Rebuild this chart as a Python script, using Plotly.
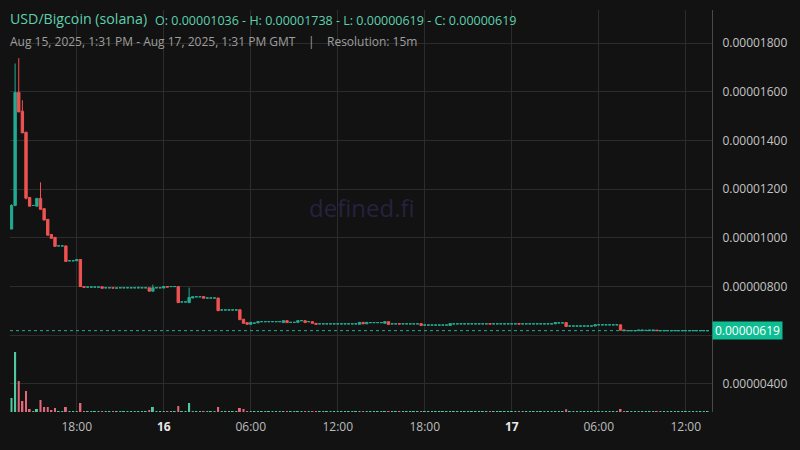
import pandas as pd
import plotly.graph_objects as go

N = 193
UNIT = 1e-8  # prices below are in units of 0.00000001 USD

times = pd.date_range("2025-08-15 13:30", periods=N, freq="15min")

opens = [
    1036, 1133, 1597, 1520, 1434, 1166, 1133, 1130, 1162, 1120,
    1076, 1014, 1002, 967, 967, 967, 906, 906, 906, 911,
    800, 798, 798, 798, 798, 799, 795, 795, 795, 794,
    795, 795, 795, 795, 795, 795, 795, 795, 795, 781,
    795, 795, 794, 800, 800, 800, 800, 737, 737, 734,
    753, 758, 758, 759, 753, 753, 753, 753, 704, 704,
    704, 704, 704, 705, 666, 652, 645, 650, 651, 656,
    656, 656, 656, 656, 656, 652, 660, 653, 653, 653,
    660, 660, 656, 656, 649, 647, 647, 647, 647, 647,
    647, 647, 647, 647, 647, 647, 645, 653, 647, 652,
    652, 652, 652, 649, 656, 647, 647, 648, 647, 647,
    647, 647, 647, 648, 642, 642, 642, 642, 642, 642,
    642, 640, 647, 647, 647, 647, 647, 647, 647, 647,
    647, 647, 648, 647, 647, 647, 647, 647, 647, 647,
    648, 647, 647, 647, 647, 647, 647, 647, 647, 647,
    647, 651, 651, 652, 638, 638, 638, 638, 638, 638,
    638, 638, 643, 643, 643, 643, 643, 643, 643, 622,
    619, 619, 619, 619, 619, 620, 619, 619, 621, 619,
    619, 619, 619, 619, 619, 619, 619, 619, 619, 619,
    619, 619, 619,
]
highs = [
    1138, 1716, 1738, 1565, 1434, 1166, 1133, 1162, 1228, 1120,
    1076, 1014, 1002, 967, 967, 967, 906, 906, 911, 911,
    800, 798, 798, 798, 798, 799, 795, 795, 795, 794,
    795, 795, 795, 795, 795, 800, 795, 795, 795, 808,
    795, 795, 800, 800, 800, 800, 800, 737, 737, 796,
    758, 758, 758, 759, 753, 753, 753, 753, 704, 704,
    704, 704, 704, 705, 666, 652, 653, 650, 656, 656,
    656, 656, 656, 656, 656, 660, 660, 653, 653, 660,
    660, 660, 656, 656, 649, 647, 647, 647, 647, 647,
    647, 647, 647, 647, 647, 647, 653, 653, 653, 652,
    652, 652, 652, 656, 656, 647, 647, 648, 647, 647,
    647, 647, 647, 648, 642, 642, 642, 642, 642, 642,
    642, 648, 647, 647, 647, 647, 647, 647, 647, 647,
    647, 647, 648, 647, 647, 647, 647, 647, 647, 647,
    648, 647, 647, 647, 647, 647, 647, 647, 647, 647,
    652, 651, 651, 652, 638, 638, 638, 638, 638, 638,
    638, 643, 643, 643, 643, 643, 643, 643, 643, 622,
    619, 619, 619, 621, 621, 620, 621, 621, 621, 619,
    619, 619, 619, 619, 619, 619, 619, 619, 619, 619,
    619, 619, 619,
]
lows = [
    1036, 1130, 1517, 1431, 1158, 1130, 1133, 1130, 1117, 1073,
    1011, 998, 965, 967, 967, 903, 906, 906, 906, 800,
    797, 798, 798, 798, 798, 793, 795, 795, 794, 794,
    795, 795, 795, 795, 795, 795, 795, 795, 781, 781,
    795, 795, 794, 798, 800, 800, 734, 737, 737, 734,
    753, 758, 758, 752, 753, 753, 753, 701, 704, 704,
    704, 704, 704, 664, 649, 645, 645, 650, 651, 656,
    656, 656, 656, 656, 656, 652, 652, 653, 653, 653,
    660, 652, 656, 649, 645, 647, 647, 647, 647, 647,
    647, 647, 647, 647, 647, 647, 645, 647, 647, 652,
    652, 652, 652, 649, 644, 647, 647, 646, 647, 647,
    647, 647, 647, 640, 642, 642, 642, 642, 642, 642,
    642, 640, 647, 647, 647, 647, 647, 647, 647, 647,
    647, 647, 646, 647, 647, 647, 647, 647, 647, 647,
    646, 647, 647, 647, 647, 647, 647, 647, 647, 647,
    647, 651, 651, 636, 638, 638, 638, 638, 638, 638,
    638, 638, 643, 643, 643, 643, 643, 643, 621, 619,
    619, 619, 619, 619, 619, 620, 619, 619, 619, 619,
    619, 619, 619, 619, 619, 619, 619, 619, 619, 619,
    619, 619, 619,
]
closes = [
    1133, 1597, 1517, 1431, 1163, 1130, 1133, 1162, 1117, 1073,
    1011, 998, 965, 967, 967, 903, 906, 906, 911, 800,
    797, 798, 798, 798, 798, 793, 795, 795, 794, 794,
    795, 795, 795, 795, 795, 795, 795, 795, 781, 795,
    795, 795, 800, 798, 800, 800, 734, 737, 737, 755,
    758, 758, 758, 752, 753, 753, 753, 701, 704, 704,
    704, 704, 704, 664, 649, 645, 653, 650, 656, 656,
    656, 656, 656, 656, 656, 660, 652, 653, 653, 660,
    660, 652, 656, 649, 645, 647, 647, 647, 647, 647,
    647, 647, 647, 647, 647, 647, 653, 647, 653, 652,
    652, 652, 652, 656, 644, 647, 647, 646, 647, 647,
    647, 647, 647, 640, 642, 642, 642, 642, 642, 642,
    642, 648, 647, 647, 647, 647, 647, 647, 647, 647,
    647, 647, 646, 647, 647, 647, 647, 647, 647, 647,
    646, 647, 647, 647, 647, 647, 647, 647, 647, 647,
    652, 651, 651, 636, 638, 638, 638, 638, 638, 638,
    638, 643, 643, 643, 643, 643, 643, 643, 621, 619,
    619, 619, 619, 621, 621, 620, 621, 621, 619, 619,
    619, 619, 619, 619, 619, 619, 619, 619, 619, 619,
    619, 619, 619,
]
volumes = [
    1400, 6000, 3100, 1100, 2100, 300, 100, 300, 1200, 500,
    500, 200, 400, 100, 100, 500, 100, 100, 100, 900,
    100, 100, 100, 100, 100, 100, 100, 100, 100, 100,
    100, 100, 100, 100, 100, 100, 100, 100, 200, 500,
    100, 100, 100, 100, 100, 100, 600, 100, 100, 900,
    100, 100, 100, 100, 100, 100, 100, 500, 100, 100,
    100, 100, 100, 400, 300, 100, 100, 100, 100, 100,
    100, 100, 100, 100, 100, 100, 100, 100, 100, 100,
    100, 100, 100, 100, 100, 100, 100, 100, 100, 100,
    100, 100, 100, 100, 100, 100, 100, 100, 100, 100,
    100, 100, 100, 100, 100, 100, 100, 100, 100, 100,
    100, 100, 100, 100, 100, 100, 100, 100, 100, 100,
    100, 100, 100, 100, 100, 100, 100, 100, 100, 100,
    100, 100, 100, 100, 100, 100, 100, 100, 100, 100,
    100, 100, 100, 100, 100, 100, 100, 100, 100, 100,
    100, 100, 100, 270, 100, 100, 100, 100, 100, 100,
    100, 100, 100, 100, 100, 100, 100, 100, 300, 100,
    100, 100, 100, 100, 100, 100, 100, 100, 100, 100,
    100, 100, 100, 100, 100, 100, 100, 100, 100, 100,
    100, 100, 100,
]
for arr in (opens, highs, lows, closes, volumes):
    assert len(arr) == N, len(arr)

price_ticks = [4e-6, 6e-6, 8e-6, 1.0e-5, 1.2e-5, 1.4e-5, 1.6e-5, 1.8e-5]
price_tick_text = ["0.00000400", "", "0.00000800", "0.00001000", "0.00001200",
                   "0.00001400", "0.00001600", "0.00001800"]
time_ticks = ["2025-08-15 18:00", "2025-08-16 00:00", "2025-08-16 06:00", "2025-08-16 12:00",
              "2025-08-16 18:00", "2025-08-17 00:00", "2025-08-17 06:00", "2025-08-17 12:00"]
time_tick_text = ["18:00", "<span style='color:#e8e8e8'><b>16</b></span>", "06:00", "12:00",
                  "18:00", "<span style='color:#e8e8e8'><b>17</b></span>", "06:00", "12:00"]
last_price = 619 * UNIT

GREEN = "#22ab94"
RED = "#ef5350"
VGREEN = "#4fc9a0"
VRED = "#e0687a"
BG = "#121212"
GRID = "#2c2c2c"
FONT = "Open Sans"

fig = go.Figure()

vol_colors = [VGREEN if closes[i] >= opens[i] else VRED for i in range(N)]
fig.add_trace(go.Bar(x=times, y=volumes, marker=dict(color=vol_colors, line=dict(width=0)),
                     width=15 * 60 * 1000 * 0.55, yaxis="y2", hoverinfo="skip", showlegend=False))


def candles(idx, color):
    return go.Candlestick(
        x=[times[i] for i in idx],
        open=[opens[i] * UNIT for i in idx],
        high=[highs[i] * UNIT for i in idx],
        low=[lows[i] * UNIT for i in idx],
        close=[closes[i] * UNIT for i in idx],
        increasing=dict(line=dict(color=color, width=1), fillcolor=color),
        decreasing=dict(line=dict(color=color, width=1), fillcolor=color),
        whiskerwidth=0, hoverinfo="skip", showlegend=False,
    )


up_idx = [i for i in range(N) if closes[i] >= opens[i]]
dn_idx = [i for i in range(N) if closes[i] < opens[i]]
fig.add_trace(candles(up_idx, GREEN))
fig.add_trace(candles(dn_idx, RED))

x_start = times[0] - pd.Timedelta(minutes=6.2)
x_end = times[0] + pd.Timedelta(minutes=2898.6)

fig.update_layout(
    width=800, height=450,
    margin=dict(l=10, r=88, t=10, b=38),
    paper_bgcolor=BG, plot_bgcolor=BG,
    boxgap=0.35, boxgroupgap=0,
    font=dict(family=FONT, color="#c4c4c4", size=12),
    xaxis=dict(type="date", range=[x_start, x_end], tickvals=time_ticks, ticktext=time_tick_text,
               showgrid=True, gridcolor=GRID, gridwidth=1, zeroline=False, showline=False,
               ticks="", rangeslider=dict(visible=False), ticklabelstandoff=6,
               tickfont=dict(family=FONT, size=12, color="#bdbdbd")),
    yaxis=dict(side="right", range=[2.85e-6, 1.9355e-5], tickvals=price_ticks, ticktext=price_tick_text,
               showgrid=True, gridcolor=GRID, gridwidth=1, zeroline=False,
               showline=True, linecolor="#4a4a4a", linewidth=1, ticks="", ticklabelstandoff=7,
               tickfont=dict(family=FONT, size=12, color="#c4c4c4")),
    yaxis2=dict(overlaying="y", range=[0, 40200], visible=False, showgrid=False),
    shapes=[dict(type="line", xref="paper", x0=0, x1=1, yref="y", y0=last_price, y1=last_price,
                 line=dict(color=GREEN, width=1, dash="3px,3px"), layer="above")],
)

# last price label
fig.add_annotation(xref="paper", x=1, xanchor="left", yref="y", y=last_price, yanchor="middle",
                   text="0.00000619", showarrow=False, bgcolor="#0fbd93", width=67, height=15,
                   borderpad=1, align="center", font=dict(family=FONT, size=12, color="#ffffff"))

# watermark
fig.add_annotation(xref="paper", yref="paper", x=(362 - 10) / 702, y=(412 - 207) / 402,
                   text="defined.fi", showarrow=False, font=dict(family=FONT, size=24, color="#25223f"))

# legend / header texts
fig.add_annotation(xref="paper", yref="paper", x=-0.003, xanchor="left", y=(412 - 19) / 402, yanchor="middle",
                   text="USD/Bigcoin (solana)", showarrow=False,
                   font=dict(family=FONT, size=14.2, color="#5fd0ae"))
fig.add_annotation(xref="paper", yref="paper", x=(153 - 10) / 702, xanchor="left", y=(412 - 20) / 402,
                   yanchor="middle",
                   text="O: 0.00001036 - H: 0.00001738 - L: 0.00000619 - C: 0.00000619", showarrow=False,
                   font=dict(family=FONT, size=12.5, color="#5fd0ae"))
fig.add_annotation(xref="paper", yref="paper", x=-0.003, xanchor="left", y=(412 - 41) / 402, yanchor="middle",
                   text="Aug 15, 2025, 1:31 PM - Aug 17, 2025, 1:31 PM GMT&nbsp;&nbsp;&nbsp;&nbsp;|&nbsp;&nbsp;&nbsp;&nbsp;Resolution: 15m",
                   showarrow=False, font=dict(family=FONT, size=12, color="#9e9e9e"))

fig.write_html("out.html", config={"displayModeBar": False},
               post_script="document.body.style.margin='0px';document.body.style.background='#121212';")
